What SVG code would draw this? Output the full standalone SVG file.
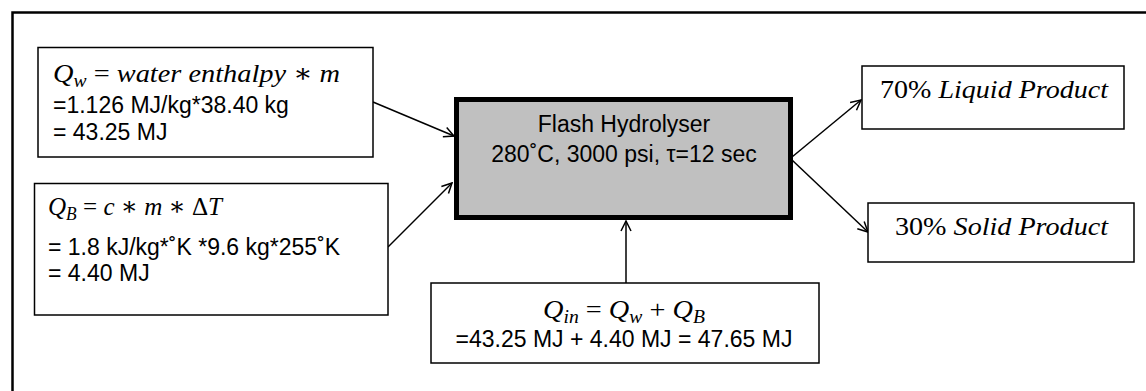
<svg xmlns="http://www.w3.org/2000/svg" width="1146" height="391" viewBox="0 0 1146 391">
<defs>
<marker id="arr" viewBox="0 0 12 12" refX="11" refY="6" markerWidth="12" markerHeight="12" markerUnits="userSpaceOnUse" orient="auto">
<path d="M1,1 L11,6 L1,11" fill="none" stroke="#000" stroke-width="1.5"/>
</marker>
<style>
.box{fill:#fff;stroke:#000;stroke-width:1.5}
.main{fill:#c0c0c0;stroke:#000;stroke-width:5}
.t{font-family:"Liberation Sans",Arial,sans-serif;font-size:23px;fill:#000}
.m{font-family:"Liberation Serif","DejaVu Serif",serif;font-size:26px;fill:#000}
.i{font-style:italic}
.sub{font-size:18px;font-style:italic}
.c{stroke:#000;stroke-width:1.5;fill:none;marker-end:url(#arr)}
</style>
</defs>
<rect width="1146" height="391" fill="#fff"/>
<path d="M12.5,391 V12.5 H1146" fill="none" stroke="#000" stroke-width="2.5"/>

<g id="connectors">
<line class="c" x1="373" y1="102" x2="454" y2="136"/>
<line class="c" x1="388" y1="247" x2="452" y2="183"/>
<line class="c" x1="626" y1="283" x2="626" y2="221"/>
<line class="c" x1="792" y1="157" x2="861" y2="100"/>
<line class="c" x1="792" y1="160" x2="868" y2="232"/>
</g>

<g id="qw">
<rect class="box" x="38" y="47.5" width="335" height="109.5"/>
<text class="m" x="53" y="82" textLength="287" lengthAdjust="spacingAndGlyphs"><tspan class="i">Q</tspan><tspan class="sub" dy="5">w</tspan><tspan dy="-5"> = </tspan><tspan class="i">water enthalpy</tspan><tspan> ∗ </tspan><tspan class="i">m</tspan></text>
<text class="t" x="53" y="113">=1.126 MJ/kg*38.40 kg</text>
<text class="t" x="53" y="140">= 43.25 MJ</text>
</g>

<g id="qb">
<rect class="box" x="34.5" y="183.5" width="353.5" height="131.5"/>
<text class="m" x="48" y="215" textLength="174" lengthAdjust="spacingAndGlyphs"><tspan class="i">Q</tspan><tspan class="sub" dy="5">B</tspan><tspan dy="-5"> = </tspan><tspan class="i">c</tspan><tspan> ∗ </tspan><tspan class="i">m</tspan><tspan> ∗ Δ</tspan><tspan class="i">T</tspan></text>
<text class="t" x="48" y="255">= 1.8 kJ/kg*˚K *9.6 kg*255˚K</text>
<text class="t" x="48" y="281">= 4.40 MJ</text>
</g>

<g id="hydrolyser">
<rect class="main" x="456.5" y="99.5" width="334" height="118"/>
<text class="t" x="624" y="132" text-anchor="middle">Flash Hydrolyser</text>
<text class="t" x="624" y="162" text-anchor="middle">280˚C, 3000 psi, τ=12 sec</text>
</g>

<g id="qin">
<rect class="box" x="431" y="283" width="388" height="80"/>
<text class="m" x="543" y="318" textLength="162" lengthAdjust="spacingAndGlyphs"><tspan class="i">Q</tspan><tspan class="sub" dy="5">in</tspan><tspan dy="-5"> = </tspan><tspan class="i">Q</tspan><tspan class="sub" dy="5">w</tspan><tspan dy="-5"> + </tspan><tspan class="i">Q</tspan><tspan class="sub" dy="5">B</tspan></text>
<text class="t" x="624" y="347" text-anchor="middle">=43.25 MJ + 4.40 MJ = 47.65 MJ</text>
</g>

<g id="liquid">
<rect class="box" x="862" y="66" width="262" height="63"/>
<text class="m" x="880" y="98" textLength="228" lengthAdjust="spacingAndGlyphs">70% <tspan class="i">Liquid Product</tspan></text>
</g>

<g id="solid">
<rect class="box" x="868" y="203" width="266" height="59"/>
<text class="m" x="895" y="235" textLength="213" lengthAdjust="spacingAndGlyphs">30% <tspan class="i">Solid Product</tspan></text>
</g>
</svg>
